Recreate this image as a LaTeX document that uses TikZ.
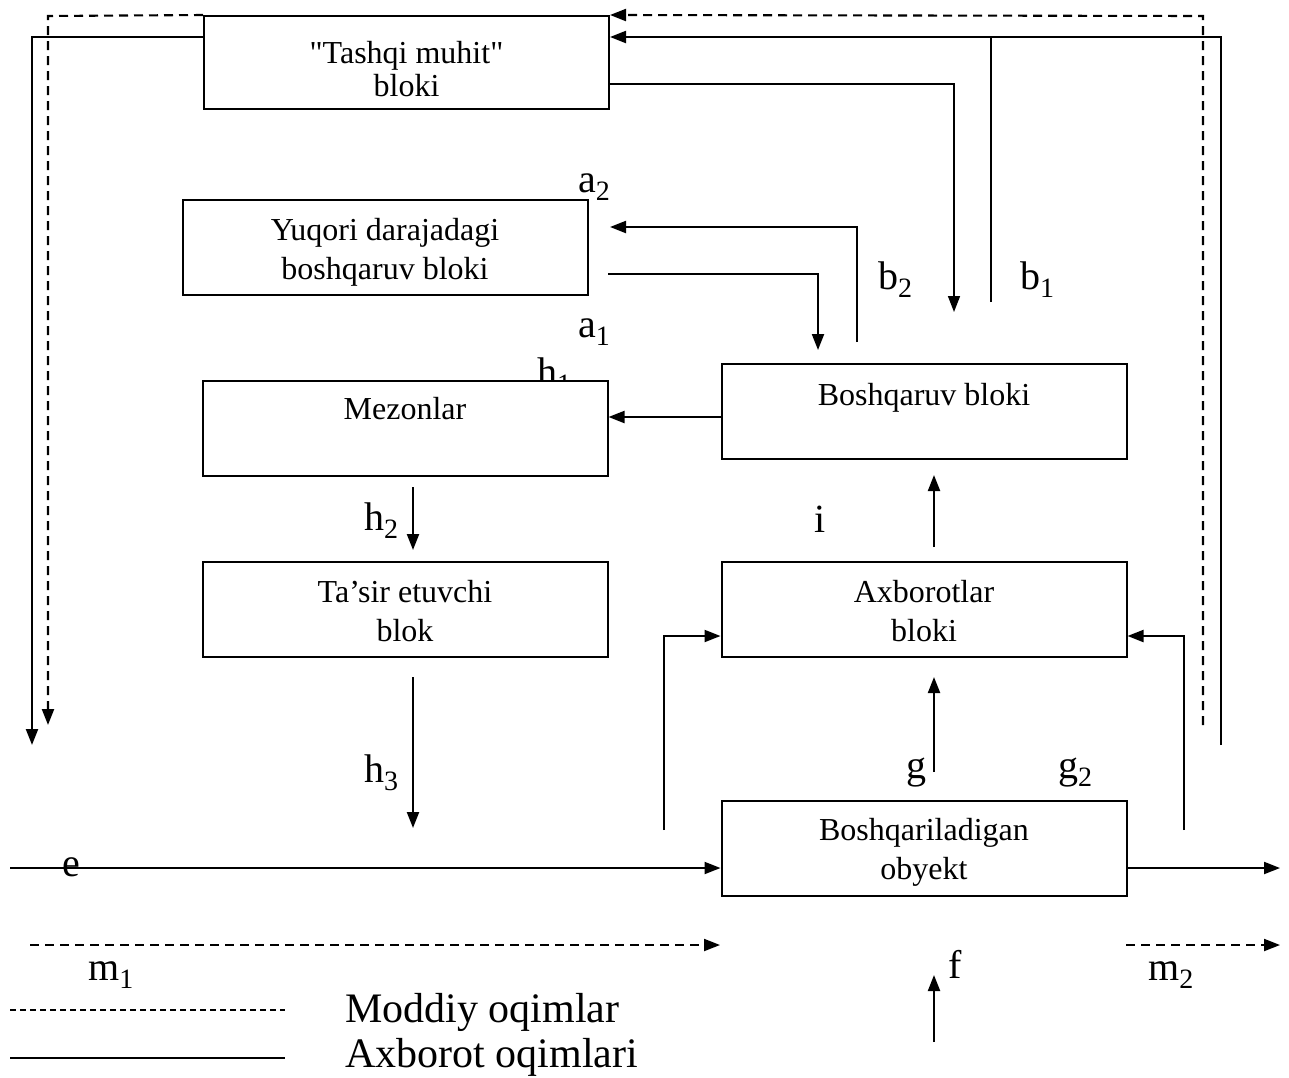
\documentclass[tikz,border=0pt]{standalone}
\usepackage{fontspec}
\setmainfont{Liberation Serif}[Ligatures=TeXOff]
\usetikzlibrary{arrows.meta,calc}
\tikzset{
 blk/.style={draw, line width=2pt, fill=white, minimum width=405pt, minimum height=95pt, inner sep=0pt},
 bt/.style={align=center, font=\fontsize{32}{39}\selectfont, inner sep=0pt},
 ln/.style={line width=2.1pt},
 thinln/.style={line width=1.5pt},
 arr/.style={ln, -{Triangle[length=16pt,width=12pt]}},
 dsh/.style={line width=2.1pt, dash pattern=on 9pt off 6pt},
 darr/.style={dsh, -{Triangle[length=16pt,width=12pt]}},
 lab/.style={font=\fontsize{40}{40}\selectfont, inner sep=0pt, anchor=base west},
 leg/.style={font=\fontsize{42}{42}\selectfont, inner sep=0pt, anchor=base west},
}
\newcommand{\sbs}[2]{#1\raisebox{-0.22em}{\fontsize{28}{28}\selectfont #2}}
\begin{document}
\begin{tikzpicture}[x=1pt,y=-1pt]
\useasboundingbox (0,0) rectangle (1289,1077);
% label partly hidden behind the Mezonlar box
\node[lab] (h1) at (537,385) {\sbs{h}{1}};
% blocks
\node[blk, minimum height=93pt] (tm) at (406.5,62.5) {};
\node[bt, font=\fontsize{32}{33}\selectfont] (tmt) at (406.5,69) {"Tashqi muhit"\\bloki};
\node[blk] (yq) at (385,247.5) {};
\node[bt] (yqt) at (385,252) {Yuqori darajadagi\\boshqaruv bloki};
\node[blk] (mz) at (405,428) {};
\node[bt] (mzt) at (405,412) {Mezonlar\strut};
\node[blk] (ts) at (405,609) {};
\node[bt] (tst) at (405,611) {Ta’sir etuvchi\\blok};
\node[blk] (bq) at (924,411) {};
\node[bt] (bqt) at (924,398) {Boshqaruv bloki\strut};
\node[blk] (ax) at (924,609) {};
\node[bt] (axt) at (924,611) {Axborotlar\\bloki};
\node[blk] (bo) at (924,848) {};
\node[bt] (bot) at (924,852) {Boshqariladigan\\obyekt};
% outer loops
\draw[arr] (tm.west |- 0,37) -- (32,37) -- (32,745);
\draw[darr] (tm.north west) -- (48,16) -- (48,725);
\draw[darr] (1203,725) -- (1203,16) -- (tm.north east);
\draw[arr] (1221,745) -- (1221,37) -- (tm.east |- 0,37);
\draw[thinln] (991,302) -- (991,37);
\draw[arr, thinln] (tm.east |- 0,84) -- (954,84) -- (954,312);
% upper control links
\draw[arr] (608,274) -- (818,274) -- (818,350);
\draw[arr] (857,342) -- (857,227) -- (610,227);
\draw[arr] (bq.west |- 0,417) -- (mz.east |- 0,417);
\draw[arr] (413,487) -- (413,550);
\draw[arr] (413,677) -- (413,828);
\draw[arr] (934,547) -- (934,475);
\draw[arr] (934,772) -- (934,677);
\draw[arr] (664,830) -- (664,636) -- (ax.west |- 0,636);
\draw[arr] (1184,830) -- (1184,636) -- (ax.east |- 0,636);
% object flows
\draw[arr] (10,868) -- (bo.west |- 0,868);
\draw[arr] (bo.east |- 0,868) -- (1280,868);
\draw[darr] (30,945) -- (720,945);
\draw[darr] (1126,945) -- (1280,945);
\draw[arr] (934,1042) -- (934,975);
% labels
\node[lab] (a2) at (578,192) {\sbs{a}{2}};
\node[lab] (a1) at (578,337) {\sbs{a}{1}};
\node[lab] (b2) at (878,289) {\sbs{b}{2}};
\node[lab] (b1) at (1020,289) {\sbs{b}{1}};
\node[lab] (h2) at (364,530) {\sbs{h}{2}};
\node[lab] (h3) at (364,782) {\sbs{h}{3}};
\node[lab] (il) at (814,532) {i};
\node[lab] (gl) at (906,778) {g};
\node[lab] (g2) at (1058,778) {\sbs{g}{2}};
\node[lab] (el) at (62,876) {e};
\node[lab] (m1) at (88,980) {\sbs{m}{1}};
\node[lab] (m2) at (1148,980) {\sbs{m}{2}};
\node[lab] (fl) at (948,978) {f};
% legend
\draw[line width=1.3pt, dash pattern=on 6pt off 4pt] (10,1010) -- (285,1010);
\draw[line width=1.8pt] (10,1058) -- (285,1058);
\node[leg] (lg1) at (345,1022) {Moddiy oqimlar};
\node[leg] (lg2) at (345,1067) {Axborot oqimlari};
\end{tikzpicture}
\end{document}
